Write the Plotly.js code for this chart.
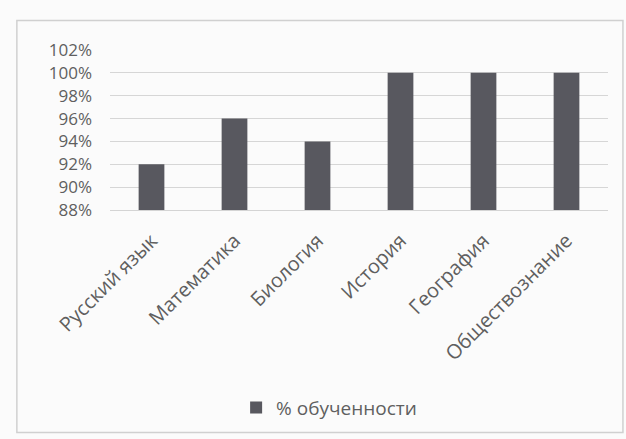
<!DOCTYPE html>
<html>
<head>
<meta charset="utf-8">
<script src="https://cdn.plot.ly/plotly-3.0.1.min.js"></script>
<style>html,body{margin:0;padding:0;background:#fbfbfb;}#chart{width:626px;height:439px;}</style>
</head>
<body>
<div id="chart"></div>
<script>
const categories = ["Русский язык", "Математика", "Биология", "История", "География", "Обществознание"];
const values = [92, 96, 94, 100, 100, 100];
const seriesName = "% обученности";
const yTicks = [88, 90, 92, 94, 96, 98, 100, 102];

const trace = {
  type: "bar",
  x: categories,
  y: values,
  name: seriesName,
  marker: {color: "#58585f"},
  hoverinfo: "x+y"
};

const layout = {
  width: 626, height: 439,
  margin: {l: 110, r: 18, t: 50, b: 227},
  paper_bgcolor: "#fbfbfb",
  plot_bgcolor: "rgba(0,0,0,0)",
  bargap: 0.69,
  font: {family: "Open Sans, Liberation Sans, sans-serif", color: "#5f5f5f", size: 19},
  xaxis: {
    type: "category",
    tickangle: -45,
    showgrid: false,
    showline: true,
    linecolor: "#d4d4d4",
    ticks: "",
    ticklabelstandoff: 10,
    tickfont: {size: 20, color: "#5f5f5f"}
  },
  yaxis: {
    range: [88, 102],
    tickvals: yTicks,
    ticktext: yTicks.map(v => v + "%"),
    showgrid: true,
    gridcolor: "#d6d6d6",
    zeroline: false,
    showline: false,
    ticks: "",
    ticklabelstandoff: 17,
    tickfont: {size: 17, color: "#5f5f5f"}
  },
  showlegend: true,
  legend: {
    orientation: "h",
    x: 0.44, xanchor: "center",
    y: -1.235, yanchor: "middle",
    itemwidth: 30,
    font: {size: 19, color: "#5f5f5f"},
    bgcolor: "rgba(0,0,0,0)"
  },
  shapes: [{
    type: "rect", xref: "paper", yref: "paper",
    x0: -0.187, x1: 1.03, y0: -1.39, y1: 1.185,
    line: {color: "#d0d0d0", width: 1.5},
    fillcolor: "rgba(0,0,0,0)",
    layer: "below"
  }]
};

Plotly.newPlot("chart", [trace], layout, {displayModeBar: false, staticPlot: true});
</script>
</body>
</html>
